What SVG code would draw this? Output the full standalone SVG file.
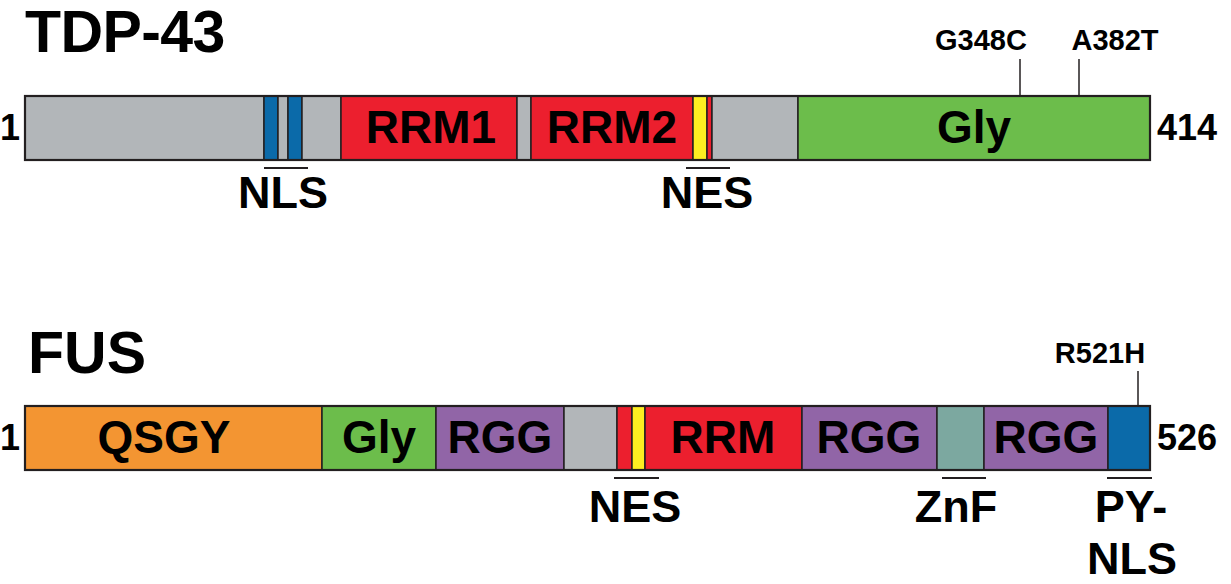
<svg xmlns="http://www.w3.org/2000/svg" width="1231" height="584" viewBox="0 0 1231 584">
<style>
text{font-family:"Liberation Sans",Arial,Helvetica,sans-serif;font-weight:bold;fill:#000}
.seg{stroke:#231f20;stroke-width:1.5}
.outline{fill:none;stroke:#231f20;stroke-width:2.2}
.grey{fill:#b2b6b9}.blue{fill:#0b6aa9}.red{fill:#ec1f2e}.yel{fill:#fdee21}.green{fill:#6cbd4b}
.orange{fill:#f39532}.purple{fill:#9165a7}.teal{fill:#7ca8a0}
.title{font-size:59px}
.dom{font-size:46px;text-anchor:middle}
.lab{font-size:45px;text-anchor:middle}
.num{font-size:36px}
.mut{font-size:29px;text-anchor:middle}
.bar{stroke:#231f20;stroke-width:2}
.tick{stroke:#231f20;stroke-width:1.5}
</style>

<g id="tdp43">
  <text class="title" x="25" y="52" letter-spacing="-0.6">TDP-43</text>
  <text class="num" x="20" y="140" text-anchor="end">1</text>
  <text class="num" x="1157" y="140">414</text>
  <g id="tdp43-domains">
    <rect class="seg grey" x="25" y="96" width="239" height="64"/>
    <rect class="seg blue" x="264" y="96" width="14" height="64"/>
    <rect class="seg grey" x="278" y="96" width="10" height="64"/>
    <rect class="seg blue" x="288" y="96" width="14" height="64"/>
    <rect class="seg grey" x="302" y="96" width="39" height="64"/>
    <rect class="seg red" x="341" y="96" width="176" height="64"/>
    <rect class="seg grey" x="517" y="96" width="14" height="64"/>
    <rect class="seg red" x="531" y="96" width="162" height="64"/>
    <rect class="seg yel" x="693" y="96" width="14" height="64"/>
    <rect class="seg red" x="707" y="96" width="5" height="64"/>
    <rect class="seg grey" x="712" y="96" width="86" height="64"/>
    <rect class="seg green" x="798" y="96" width="352" height="64"/>
    <rect class="outline" x="25" y="96" width="1125" height="64"/>
  </g>
  <text class="dom" x="431" y="143">RRM1</text>
  <text class="dom" x="612" y="143">RRM2</text>
  <text class="dom" x="974" y="143">Gly</text>
  <g id="tdp43-mutations">
    <line class="tick" x1="1020" y1="59" x2="1020" y2="96"/>
    <line class="tick" x1="1079" y1="59" x2="1079" y2="96"/>
    <text class="mut" x="981" y="50">G348C</text>
    <text class="mut" x="1115" y="50">A382T</text>
  </g>
  <g id="tdp43-nls">
    <line class="bar" x1="264" y1="168" x2="308" y2="168"/>
    <text class="lab" x="283" y="208">NLS</text>
  </g>
  <g id="tdp43-nes">
    <line class="bar" x1="686" y1="168" x2="730" y2="168"/>
    <text class="lab" x="707" y="208">NES</text>
  </g>
</g>

<g id="fus">
  <text class="title" x="28" y="373">FUS</text>
  <text class="num" x="20" y="450" text-anchor="end">1</text>
  <text class="num" x="1157" y="450">526</text>
  <g id="fus-domains">
    <rect class="seg orange" x="25" y="406" width="297" height="64"/>
    <rect class="seg green" x="322" y="406" width="114" height="64"/>
    <rect class="seg purple" x="436" y="406" width="128" height="64"/>
    <rect class="seg grey" x="564" y="406" width="53" height="64"/>
    <rect class="seg red" x="617" y="406" width="15" height="64"/>
    <rect class="seg yel" x="632" y="406" width="13" height="64"/>
    <rect class="seg red" x="645" y="406" width="157" height="64"/>
    <rect class="seg purple" x="802" y="406" width="135" height="64"/>
    <rect class="seg teal" x="937" y="406" width="47" height="64"/>
    <rect class="seg purple" x="984" y="406" width="124" height="64"/>
    <rect class="seg blue" x="1108" y="406" width="42" height="64"/>
    <rect class="outline" x="25" y="406" width="1125" height="64"/>
  </g>
  <text class="dom" x="164" y="453">QSGY</text>
  <text class="dom" x="379" y="453">Gly</text>
  <text class="dom" x="500" y="453">RGG</text>
  <text class="dom" x="723" y="453">RRM</text>
  <text class="dom" x="869" y="453">RGG</text>
  <text class="dom" x="1046" y="453">RGG</text>
  <g id="fus-mutation">
    <line class="tick" x1="1138" y1="371" x2="1138" y2="406"/>
    <text class="mut" x="1100" y="363">R521H</text>
  </g>
  <g id="fus-nes">
    <line class="bar" x1="614" y1="478" x2="659" y2="478"/>
    <text class="lab" x="635" y="522">NES</text>
  </g>
  <g id="fus-znf">
    <line class="bar" x1="942" y1="478" x2="986" y2="478"/>
    <text class="lab" x="956" y="522">ZnF</text>
  </g>
  <g id="fus-pynls">
    <line class="bar" x1="1107" y1="478" x2="1152" y2="478"/>
    <text class="lab" x="1131" y="522">PY-</text>
    <text class="lab" x="1132" y="574">NLS</text>
  </g>
</g>
</svg>
